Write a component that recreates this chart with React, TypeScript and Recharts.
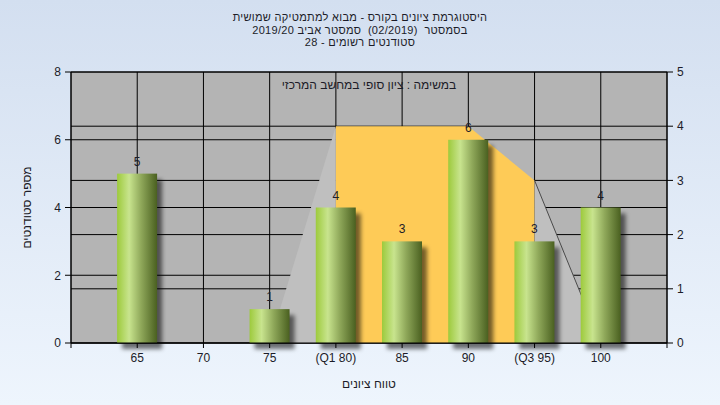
import React from 'react';
import {
  ComposedChart,
  Bar,
  Area,
  XAxis,
  YAxis,
  CartesianGrid,
  LabelList,
} from 'recharts';

// grade ranges and number of students in each
const categories = [65, 70, 75, 80, 85, 90, 95, 100];
const counts = [5, 0, 1, 4, 3, 6, 3, 4];
const tickLabels = ['65', '70', '75', '(Q1 80)', '85', '90', '(Q3 95)', '100'];

// box shape behind the bars (right axis)
const boxLeft = [null, null, 0, 4, null, null, null, null];
const boxMid = [null, null, null, 4, 4, 4, 3, null];
const boxRight = [null, null, null, null, null, null, 3, 0];

const leftTicks = [0, 2, 4, 6, 8];
const rightTicks = [0, 1, 2, 3, 4, 5];

const titleLines = [
  'היסטוגרמת ציונים בקורס - מבוא למתמטיקה שמושית',
  'בסמסטר  (02/2019)  סמסטר אביב 2019/20',
  'סטודנטים רשומים - 28',
];
const subtitle = 'במשימה : ציון סופי במחשב המרכזי';

const data = categories.map((c, i) => ({
  x: c,
  count: counts[i],
  boxLeft: boxLeft[i],
  boxMid: boxMid[i],
  boxRight: boxRight[i],
}));

const FONT = '"Liberation Sans", Arial, sans-serif';
const TEXT = '#1c1c28';

const fmtTick = (v: number) => {
  const i = categories.indexOf(v);
  return i >= 0 ? tickLabels[i] : '';
};

const CylinderBar = (props: any) => {
  const { x, y, width, height } = props;
  if (!height || height <= 0) return null;
  return (
    <g>
      <rect
        x={x + 5}
        y={y + 6}
        width={width}
        height={height}
        fill='#000'
        fillOpacity={0.55}
        filter='url(#barShadow)'
      />
      <rect x={x} y={y} width={width} height={height} fill='url(#barGrad)' />
    </g>
  );
};

const ValueLabel = (props: any) => {
  const { x, y, width, value } = props;
  if (!value) return null;
  return (
    <text
      x={x + width / 2}
      y={y - 8}
      textAnchor='middle'
      fontSize={12}
      fontFamily={FONT}
      fill={TEXT}
    >
      {value}
    </text>
  );
};

const App: React.FC = () => {
  return (
    <div
      style={{
        position: 'fixed',
        left: 0,
        top: 0,
        width: 720,
        height: 405,
        background: 'linear-gradient(180deg, #d3dff0 0%, #eef5fd 100%)',
        fontFamily: FONT,
      }}
    >
      <div
        style={{
          position: 'absolute',
          left: 0,
          top: 11,
          width: 720,
          textAlign: 'center',
          fontSize: 11,
          lineHeight: '12.5px',
          letterSpacing: '0.3px',
          color: TEXT,
          direction: 'rtl',
        }}
      >
        {titleLines.map((t) => (
          <div key={t} style={{ whiteSpace: 'pre' }}>
            {t}
          </div>
        ))}
      </div>
      <ComposedChart
        width={720}
        height={405}
        data={data}
        margin={{ top: 72, right: 0, bottom: 0, left: 0 }}
      >
        <defs>
          <linearGradient id='barGrad' x1='0' y1='0' x2='1' y2='0'>
            <stop offset='0%' stopColor='#9dca3c' />
            <stop offset='30%' stopColor='#c8e48e' />
            <stop offset='60%' stopColor='#8fa85a' />
            <stop offset='100%' stopColor='#4a6020' />
          </linearGradient>
          <filter id='barShadow' x='-50%' y='-50%' width='200%' height='200%'>
            <feGaussianBlur stdDeviation='2' />
          </filter>
        </defs>
        <CartesianGrid
          yAxisId='left'
          stroke='#000'
          fill='#b4b4b4'
          fillOpacity={1}
        />
        <CartesianGrid yAxisId='right' stroke='#000' vertical={false} />
        <XAxis
          dataKey='x'
          type='number'
          domain={[60, 105]}
          ticks={[60, ...categories, 105]}
          tickFormatter={fmtTick}
          interval={0}
          height={62}
          stroke='#000'
          tickSize={5}
          tickMargin={5}
          tick={{ fill: TEXT, fontSize: 12, fontFamily: FONT }}
          label={{
            value: 'טווח ציונים',
            position: 'insideBottom',
            offset: 17,
            fill: TEXT,
            fontSize: 12,
            fontFamily: FONT,
          }}
        />
        <YAxis
          yAxisId='left'
          orientation='left'
          domain={[0, 8]}
          ticks={leftTicks}
          width={71}
          stroke='#000'
          tickSize={6}
          tickMargin={4}
          tick={{ fill: TEXT, fontSize: 12, fontFamily: FONT }}
          label={{
            value: 'מספר סטודנטים',
            angle: -90,
            position: 'insideLeft',
            offset: 27,
            fill: TEXT,
            fontSize: 12,
            fontFamily: FONT,
            style: { textAnchor: 'middle' },
          }}
        />
        <YAxis
          yAxisId='right'
          orientation='right'
          domain={[0, 5]}
          ticks={rightTicks}
          width={53}
          stroke='#000'
          tickSize={6}
          tickMargin={4}
          tick={{ fill: TEXT, fontSize: 12, fontFamily: FONT }}
        />
        <Area
          yAxisId='right'
          dataKey='boxLeft'
          type='linear'
          fill='#bfbfbf'
          fillOpacity={1}
          stroke='none'
          isAnimationActive={false}
        />
        <Area
          yAxisId='right'
          dataKey='boxMid'
          type='linear'
          fill='#fecb57'
          fillOpacity={1}
          stroke='none'
          isAnimationActive={false}
        />
        <Area
          yAxisId='right'
          dataKey='boxRight'
          type='linear'
          fill='#bfbfbf'
          fillOpacity={1}
          stroke='#4a4a4a'
          strokeWidth={1}
          isAnimationActive={false}
        />
        <Bar
          yAxisId='left'
          dataKey='count'
          barSize={40}
          shape={CylinderBar}
          isAnimationActive={false}
        >
          <LabelList dataKey='count' content={ValueLabel} />
        </Bar>
      </ComposedChart>
      <div
        style={{
          position: 'absolute',
          left: 71,
          top: 79,
          width: 596,
          textAlign: 'center',
          fontSize: 12,
          lineHeight: '12px',
          color: TEXT,
          direction: 'rtl',
        }}
      >
        {subtitle}
      </div>
    </div>
  );
};

export default App;
